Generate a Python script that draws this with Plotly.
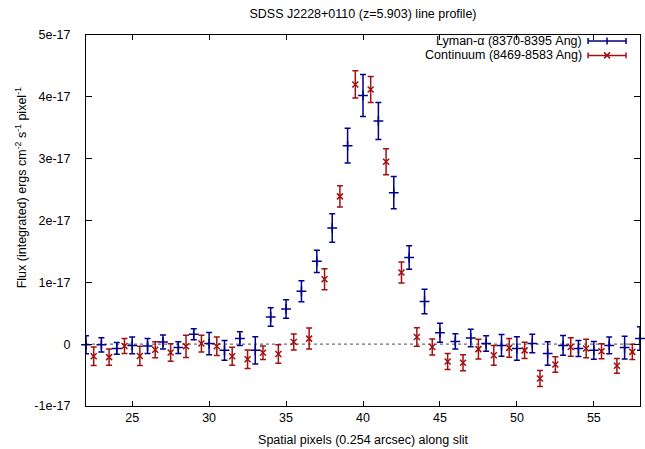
import plotly.graph_objects as go

SCALE = 1e-17

# Lyman-alpha (8370-8395 Ang), values in units of 1e-17
lya_x = list(range(22, 59))
lya_y = [-0.01, -0.01, -0.07, -0.02, -0.03, 0.035, -0.055, 0.16, 0.01, -0.10,
         0.09, -0.10, 0.44, 0.57, 0.855, 1.34, 1.88, 3.21, 4.02, 3.61,
         2.45, 1.40, 0.69, 0.185, 0.045, 0.10, 0.01, -0.02, -0.07, 0.01,
         -0.15, -0.02, -0.07, -0.10, -0.02, -0.055, 0.09]
lya_err = [0.145, 0.115, 0.095, 0.135, 0.12, 0.115, 0.095, 0.09, 0.18, 0.16,
           0.11, 0.22, 0.15, 0.15, 0.17, 0.18, 0.23, 0.28, 0.34, 0.30,
           0.26, 0.19, 0.20, 0.155, 0.125, 0.14, 0.125, 0.175, 0.19, 0.15,
           0.19, 0.16, 0.13, 0.145, 0.135, 0.185, 0.19]

# Continuum (8469-8583 Ang), values in units of 1e-17
con_x = [v + 0.5 for v in range(22, 58)]
con_y = [-0.195, -0.21, -0.03, -0.19, -0.09, -0.135, -0.035, 0.01, -0.035, -0.195,
         -0.245, -0.14, -0.16, 0.035, 0.09, 1.05, 2.39, 4.20, 4.12, 2.95,
         1.16, 0.115, -0.045, -0.28, -0.30, -0.08, -0.18, -0.06, -0.10, -0.555,
         -0.33, -0.045, -0.07, -0.115, -0.35, -0.125]
con_err = [0.15, 0.13, 0.12, 0.155, 0.13, 0.14, 0.18, 0.135, 0.15, 0.145,
           0.15, 0.11, 0.15, 0.13, 0.17, 0.17, 0.17, 0.22, 0.21, 0.21,
           0.17, 0.15, 0.13, 0.13, 0.13, 0.16, 0.16, 0.15, 0.13, 0.13,
           0.125, 0.15, 0.15, 0.12, 0.12, 0.125]

x_ticks = [25, 30, 35, 40, 45, 50, 55]
y_ticks = [-1e-17, 0, 1e-17, 2e-17, 3e-17, 4e-17, 5e-17]
y_ticktext = ["-1e-17", "0", "1e-17", "2e-17", "3e-17", "4e-17", "5e-17"]

BLUE = "#00008b"
RED = "#a01010"
FONT = "Liberation Sans, Arial, sans-serif"
FS = 12.5

fig = go.Figure()

fig.add_trace(go.Scatter(
    x=lya_x, y=[v * SCALE for v in lya_y], mode="markers",
    marker=dict(symbol="cross-thin", size=7, line=dict(color=BLUE, width=1.5), color=BLUE),
    error_y=dict(type="data", array=[e * SCALE for e in lya_err], color=BLUE, thickness=1.5, width=3),
    cliponaxis=False, showlegend=False, name="Lyman-α (8370-8395 Ang)"))

fig.add_trace(go.Scatter(
    x=con_x, y=[v * SCALE for v in con_y], mode="markers",
    marker=dict(symbol="x-thin", size=6, line=dict(color=RED, width=1.5), color=RED),
    error_y=dict(type="data", array=[e * SCALE for e in con_err], color=RED, thickness=1.5, width=3),
    cliponaxis=False, showlegend=False, name="Continuum (8469-8583 Ang)"))

# zero line
fig.add_shape(type="line", xref="x", yref="y", x0=22, x1=58, y0=0, y1=0,
              line=dict(color="#707070", width=1.2, dash="dot"), layer="below")

# custom gnuplot-like legend
L_W = 555.0
L_H = 373.0
def px_x(p):
    return (p - 86) / L_W
def px_y(p):
    return (408 - p) / L_H

legend_items = [("Lyman-α (8370-8395 Ang)", BLUE, 41.0, "plus"),
                ("Continuum (8469-8583 Ang)", RED, 55.5, "x")]
for text, col, ypix, mk in legend_items:
    fig.add_annotation(x=px_x(584), y=px_y(ypix), xref="paper", yref="paper",
                       text=text, showarrow=False, xanchor="right", yanchor="middle",
                       borderpad=0,
                       font=dict(family=FONT, size=FS, color="black"))
    yy = px_y(ypix)
    fig.add_shape(type="line", xref="paper", yref="paper", x0=px_x(589), x1=px_x(627),
                  y0=yy, y1=yy, line=dict(color=col, width=1.5))
    for xe in (589, 627):
        fig.add_shape(type="line", xref="paper", yref="paper", x0=px_x(xe), x1=px_x(xe),
                      y0=px_y(ypix - 3), y1=px_y(ypix + 3), line=dict(color=col, width=1.5))
    xm = 608
    if mk == "plus":
        fig.add_shape(type="line", xref="paper", yref="paper", x0=px_x(xm), x1=px_x(xm),
                      y0=px_y(ypix - 3.5), y1=px_y(ypix + 3.5), line=dict(color=col, width=1.5))
    else:
        fig.add_shape(type="line", xref="paper", yref="paper", x0=px_x(xm - 3), x1=px_x(xm + 3),
                      y0=px_y(ypix - 3), y1=px_y(ypix + 3), line=dict(color=col, width=1.5))
        fig.add_shape(type="line", xref="paper", yref="paper", x0=px_x(xm - 3), x1=px_x(xm + 3),
                      y0=px_y(ypix + 3), y1=px_y(ypix - 3), line=dict(color=col, width=1.5))

# y axis title
fig.add_annotation(x=px_x(21), y=px_y(189), xref="paper", yref="paper",
                   text="Flux (integrated) ergs cm<sup>-2</sup> s<sup>-1</sup> pixel<sup>-1</sup>",
                   textangle=-90, showarrow=False, xanchor="center", yanchor="middle",
                   font=dict(family=FONT, size=FS, color="black"))

fig.update_layout(
    width=645, height=449,
    margin=dict(l=86, r=4, t=35, b=41),
    paper_bgcolor="white", plot_bgcolor="white",
    font=dict(family=FONT, size=FS, color="black"),
    title=dict(text="SDSS J2228+0110 (z=5.903) line profile)", x=0.5, xref="paper",
               y=1 - 13.3 / 449, yref="container", yanchor="middle", xanchor="center",
               font=dict(family=FONT, size=FS, color="black")),
    xaxis=dict(range=[22, 58], tickvals=x_ticks, ticks="inside", ticklen=5, tickwidth=1,
               tickcolor="black", showline=True, linecolor="black", linewidth=1, mirror="ticks",
               showgrid=False, zeroline=False,
               title=dict(text="Spatial pixels (0.254 arcsec) along slit", standoff=11,
                          font=dict(family=FONT, size=FS)),
               tickfont=dict(family=FONT, size=FS)),
    yaxis=dict(range=[-1e-17, 5e-17], tickvals=y_ticks, ticktext=y_ticktext,
               ticks="inside", ticklen=6, tickwidth=1, tickcolor="black",
               showline=True, linecolor="black", linewidth=1, mirror="ticks",
               showgrid=False, zeroline=False, ticklabelstandoff=12,
               tickfont=dict(family=FONT, size=FS)),
)

fig.write_html("out.html")
